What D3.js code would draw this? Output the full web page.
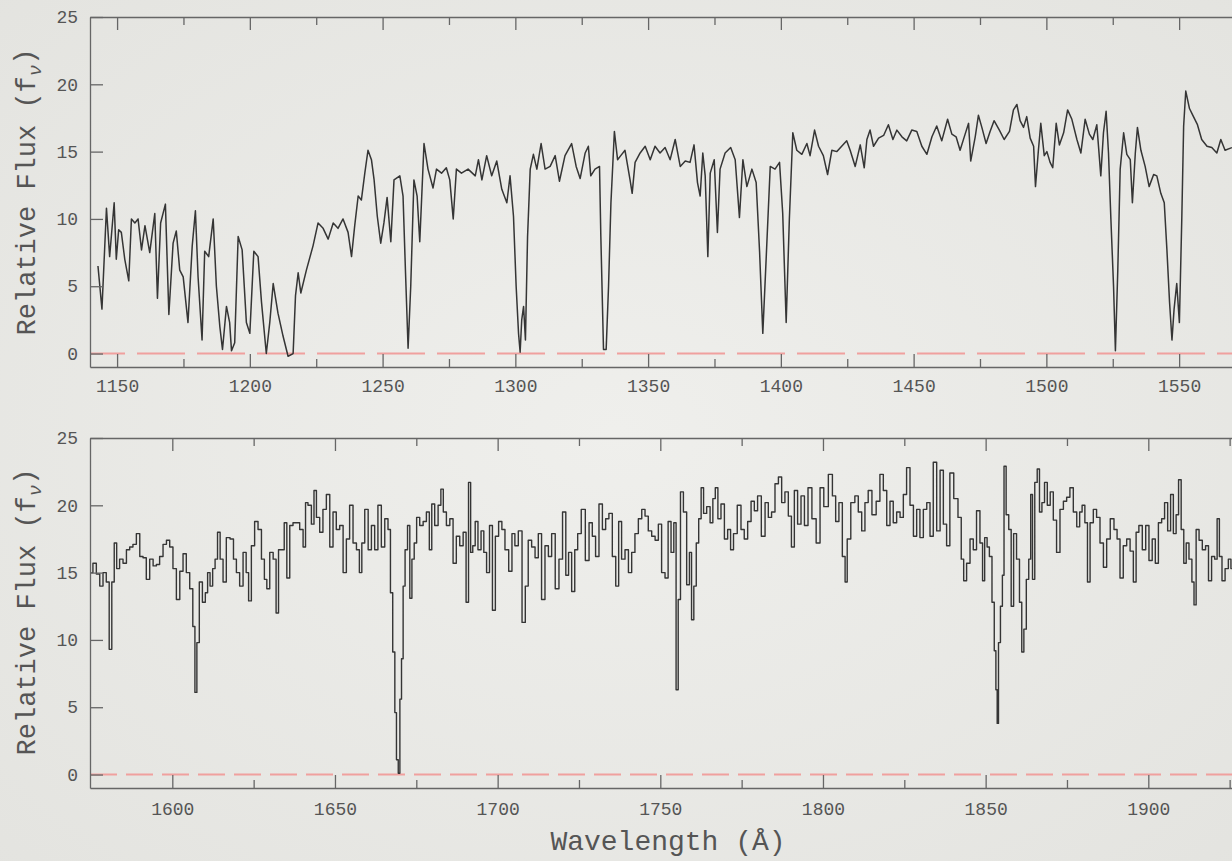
<!DOCTYPE html>
<html>
<head>
<meta charset="utf-8">
<title>Relative Flux spectrum</title>
<script src="https://cdn.jsdelivr.net/npm/d3@7"></script>
<style>
  body { margin: 0; background: #ecece8; overflow: hidden; }
  .axis line, .axis path { stroke: #666; stroke-width: 1.3; }
  .axis text { font-family: "Liberation Mono", "DejaVu Sans Mono", monospace; font-size: 18px; fill: #555; }
  .label { font-family: "Liberation Mono", "DejaVu Sans Mono", monospace; fill: #555; }
</style>
</head>
<body>
<script>

// Spectrum, upper panel: [wavelength (A), relative flux]
const topSpectrum = [
  [1142.8,6.5],[1144.3,3.3],[1146.0,10.8],[1147.2,7.2],[1148.9,11.2],[1149.7,7.0],[1150.6,9.2],[1151.6,9.0],
  [1152.9,7.0],[1154.4,5.4],[1155.4,10.0],[1156.7,9.7],[1157.9,10.0],[1159.2,7.7],[1160.5,9.5],[1162.3,7.5],
  [1164.2,10.4],[1165.2,4.1],[1166.4,9.7],[1168.2,11.1],[1169.5,2.9],[1171.1,8.2],[1172.3,9.1],[1173.6,6.2],
  [1174.9,5.7],[1176.7,2.3],[1178.3,8.0],[1179.5,10.6],[1180.5,5.7],[1182.0,1.0],[1183.0,7.6],[1184.5,7.2],
  [1186.2,10.0],[1187.4,5.0],[1188.7,2.0],[1189.7,0.3],[1191.2,3.5],[1192.4,2.3],[1193.1,0.2],[1194.3,0.8],
  [1195.6,8.7],[1197.1,7.7],[1198.7,2.3],[1200.0,1.5],[1201.5,7.6],[1203.1,7.2],[1204.4,3.8],[1206.2,0.0],
  [1207.5,2.3],[1208.8,5.2],[1210.6,3.0],[1212.5,1.3],[1214.4,-0.2],[1216.3,0.0],[1217.2,4.3],[1218.2,6.0],
  [1219.2,4.5],[1221.3,6.2],[1223.8,8.0],[1225.7,9.7],[1227.6,9.3],[1229.5,8.5],[1231.4,9.7],[1233.2,9.3],
  [1235.1,10.0],[1237.0,9.0],[1238.3,7.2],[1239.5,9.5],[1240.8,11.7],[1242.0,11.4],[1243.3,13.4],[1244.5,15.1],
  [1245.8,14.4],[1246.8,12.9],[1248.0,10.2],[1249.3,8.2],[1250.5,9.7],[1251.7,11.6],[1253.1,8.3],[1254.3,12.9],
  [1256.5,13.2],[1257.7,11.7],[1258.6,6.2],[1259.6,0.4],[1260.6,5.0],[1261.8,12.9],[1263.0,11.7],[1264.0,8.3],
  [1265.6,15.6],[1267.1,13.7],[1269.0,12.3],[1270.3,13.7],[1272.2,13.4],[1274.0,13.8],[1275.3,12.9],[1276.6,10.0],
  [1277.8,13.7],[1279.7,13.4],[1282.2,13.7],[1284.9,13.2],[1286.1,14.4],[1287.4,12.9],[1289.2,14.7],[1291.1,13.2],
  [1293.0,14.3],[1294.9,12.2],[1296.8,11.2],[1298.0,13.2],[1299.3,10.2],[1300.3,5.0],[1301.2,1.5],[1301.8,0.1],
  [1302.4,2.5],[1303.1,3.5],[1303.8,1.0],[1304.6,8.7],[1305.6,13.7],[1306.8,14.8],[1308.1,13.7],[1309.7,15.6],
  [1311.2,13.7],[1313.1,13.9],[1315.0,14.7],[1316.6,12.8],[1318.7,14.7],[1321.2,15.6],[1322.9,13.9],[1324.4,13.0],
  [1326.3,14.9],[1327.5,15.4],[1328.4,13.2],[1330.0,13.7],[1331.7,13.9],[1332.2,8.7],[1333.2,0.3],[1334.2,0.3],
  [1335.1,5.0],[1336.0,11.2],[1337.3,16.5],[1338.5,14.4],[1339.7,14.7],[1341.3,15.1],[1343.2,12.9],[1344.0,11.9],
  [1345.1,14.2],[1347.0,14.9],[1348.9,15.4],[1350.8,14.4],[1352.6,15.4],[1354.5,14.9],[1356.4,15.3],[1358.3,14.4],
  [1360.2,15.9],[1362.1,13.9],[1364.0,14.3],[1365.8,14.2],[1367.3,15.5],[1368.6,12.7],[1369.6,11.7],[1370.6,14.9],
  [1371.5,13.2],[1372.5,7.2],[1373.4,13.4],[1374.9,14.4],[1376.1,9.0],[1377.1,13.7],[1379.0,14.9],[1381.1,15.3],
  [1382.8,14.4],[1384.4,10.1],[1385.7,14.4],[1387.2,12.4],[1389.1,13.7],[1390.7,12.7],[1392.0,7.5],[1393.2,1.5],
  [1394.5,7.2],[1396.0,13.9],[1397.8,13.7],[1399.5,14.2],[1400.7,10.4],[1402.0,2.3],[1403.2,10.0],[1404.5,16.4],
  [1406.0,15.1],[1407.9,14.8],[1409.8,15.6],[1411.0,14.7],[1412.7,16.6],[1414.2,15.4],[1416.0,14.7],[1417.6,13.3],
  [1419.2,15.1],[1421.1,15.0],[1422.9,15.4],[1424.8,15.8],[1426.1,15.1],[1428.0,13.9],[1429.9,15.5],[1431.4,13.8],
  [1432.4,15.9],[1433.6,16.6],[1434.9,15.4],[1436.8,16.0],[1438.7,16.2],[1440.5,17.0],[1442.2,15.9],[1443.7,16.6],
  [1445.6,16.1],[1447.4,15.8],[1449.3,16.6],[1451.2,16.5],[1453.1,15.4],[1455.0,14.8],[1456.9,16.1],[1458.7,16.9],
  [1460.6,15.8],[1462.8,17.4],[1464.4,16.3],[1466.0,16.1],[1467.5,15.1],[1469.4,16.3],[1470.7,17.1],[1471.5,14.3],
  [1473.2,16.1],[1474.4,17.7],[1475.7,16.8],[1477.3,15.6],[1478.8,16.5],[1480.3,17.3],[1482.3,16.6],[1484.1,15.9],
  [1486.1,16.5],[1487.6,18.1],[1488.9,18.5],[1490.1,17.3],[1491.4,16.8],[1492.6,17.6],[1493.9,16.0],[1495.2,15.4],
  [1495.9,12.4],[1497.0,15.1],[1497.9,17.1],[1499.2,14.7],[1500.2,15.0],[1501.4,14.2],[1502.4,13.8],[1503.7,17.1],
  [1504.9,15.5],[1506.5,16.4],[1508.0,18.1],[1509.6,17.4],[1511.5,15.9],[1513.0,14.9],[1514.6,17.4],[1516.2,16.3],
  [1517.5,15.9],[1519.0,17.0],[1520.5,13.2],[1521.5,16.4],[1522.5,18.0],[1523.4,14.9],[1524.3,10.0],[1525.3,5.0],
  [1526.0,0.2],[1526.9,6.2],[1527.8,13.7],[1529.1,16.4],[1530.3,14.8],[1531.6,14.4],[1532.4,11.2],[1533.5,14.9],
  [1534.3,16.8],[1535.6,15.1],[1537.2,13.9],[1538.7,12.4],[1540.4,13.3],[1541.6,13.2],[1543.1,11.9],[1544.4,11.2],
  [1545.4,7.7],[1546.4,3.8],[1547.3,1.0],[1548.1,3.3],[1549.1,5.2],[1550.1,2.3],[1551.0,10.0],[1551.7,16.9],
  [1552.5,19.5],[1553.9,18.2],[1555.4,17.6],[1556.9,17.0],[1558.5,15.9],[1560.5,15.4],[1562.3,15.3],[1564.2,14.9],
  [1565.7,15.9],[1567.3,15.1],[1569.9,15.3]
];

// Spectrum, lower panel: [wavelength (A), relative flux]
const bottomSpectrum = [
  [1575.1,15.0],[1576.1,15.7],[1577.2,14.9],[1578.2,14.0],[1579.2,15.0],[1580.2,14.3],[1581.0,9.3],[1581.8,14.3],
  [1582.5,17.2],[1583.3,15.3],[1584.3,16.0],[1585.4,15.7],[1586.4,16.7],[1587.4,16.9],[1588.4,17.1],[1589.5,17.9],
  [1590.5,16.2],[1591.5,16.1],[1592.5,14.5],[1593.6,16.0],[1594.6,15.5],[1595.6,15.6],[1596.6,16.2],[1597.7,17.1],
  [1598.7,17.4],[1599.7,16.9],[1600.7,15.3],[1601.8,13.0],[1602.8,15.1],[1603.8,16.4],[1604.8,15.0],[1605.9,13.8],
  [1606.7,11.0],[1607.2,6.1],[1607.9,9.8],[1608.7,14.3],[1609.8,12.8],[1610.5,13.5],[1611.2,15.0],[1612.0,14.0],
  [1612.8,15.3],[1613.5,16.0],[1614.3,18.0],[1615.1,16.0],[1616.1,14.3],[1617.1,17.6],[1618.4,17.5],[1619.2,16.0],
  [1620.2,15.0],[1621.2,14.0],[1622.3,16.5],[1623.1,15.0],[1623.8,12.9],[1624.8,17.0],[1625.8,18.8],[1626.9,18.2],
  [1627.9,16.0],[1628.7,14.5],[1629.4,13.8],[1630.5,16.5],[1631.5,16.0],[1632.3,12.0],[1633.0,16.7],[1634.0,16.7],
  [1634.8,18.7],[1635.6,14.6],[1636.6,18.5],[1637.6,18.7],[1638.6,18.7],[1639.7,18.2],[1640.7,16.9],[1641.2,20.2],
  [1642.2,20.0],[1643.3,18.6],[1643.8,21.1],[1644.8,19.1],[1645.8,18.0],[1646.8,19.7],[1647.9,20.8],[1648.9,16.9],
  [1649.9,19.5],[1650.9,18.2],[1652.0,18.5],[1653.0,15.0],[1654.0,17.5],[1655.0,20.0],[1656.1,17.2],[1657.1,16.7],
  [1657.9,15.0],[1658.6,17.2],[1659.7,19.7],[1660.7,16.7],[1661.7,18.5],[1662.7,16.7],[1663.7,20.0],[1664.8,16.9],
  [1665.8,19.0],[1666.8,18.2],[1667.3,13.5],[1668.2,9.1],[1668.6,4.6],[1669.2,1.1],[1669.7,0.1],[1670.2,5.6],
  [1670.7,8.6],[1671.2,14.0],[1671.9,16.7],[1672.7,18.5],[1673.3,13.1],[1674.0,16.0],[1674.7,17.2],[1675.5,19.1],
  [1676.6,18.5],[1677.6,18.8],[1678.6,19.5],[1679.4,16.7],[1680.1,20.1],[1681.2,18.5],[1682.2,20.0],[1682.9,21.2],
  [1683.7,19.5],[1684.8,18.5],[1685.8,19.0],[1686.8,15.7],[1687.8,17.7],[1688.9,17.0],[1689.9,18.0],[1690.7,12.8],
  [1691.4,21.7],[1692.0,16.5],[1692.7,17.0],[1693.5,18.8],[1694.4,16.7],[1695.4,18.1],[1696.1,16.5],[1697.1,15.0],
  [1697.9,18.5],[1698.9,12.2],[1699.7,17.7],[1700.9,18.8],[1701.7,18.2],[1702.8,16.7],[1704.0,15.1],[1704.8,17.9],
  [1705.8,17.0],[1706.9,18.1],[1708.1,11.3],[1708.9,14.0],[1709.9,17.4],[1711.0,16.9],[1712.0,16.1],[1713.0,17.9],
  [1714.0,13.0],[1715.1,17.0],[1716.1,16.2],[1717.1,17.9],[1718.3,13.8],[1719.4,16.0],[1720.5,19.5],[1721.4,14.8],
  [1722.2,16.5],[1723.3,13.6],[1724.1,16.7],[1725.1,17.9],[1726.3,19.7],[1727.6,15.9],[1728.6,18.7],[1729.6,17.7],
  [1730.6,16.2],[1731.7,20.1],[1732.7,18.2],[1733.7,19.0],[1734.7,19.4],[1735.8,16.2],[1736.8,14.0],[1737.6,18.8],
  [1738.6,16.0],[1739.7,16.7],[1740.7,15.0],[1741.7,16.5],[1742.7,17.9],[1743.8,19.0],[1744.8,19.7],[1745.8,19.2],
  [1746.8,18.1],[1747.9,17.7],[1748.9,17.4],[1749.9,18.6],[1750.9,15.0],[1752.0,14.6],[1752.8,18.8],[1753.8,16.5],
  [1754.5,18.7],[1755.2,6.3],[1755.8,13.0],[1756.6,21.0],[1757.6,19.5],[1758.6,14.1],[1759.3,16.5],[1759.9,11.5],
  [1760.7,14.0],[1761.4,17.2],[1762.2,19.0],[1762.9,21.3],[1763.7,19.4],[1764.8,19.9],[1765.8,18.7],[1766.5,20.5],
  [1767.3,21.3],[1768.1,19.0],[1769.2,20.1],[1770.2,17.5],[1771.2,18.2],[1772.0,16.7],[1773.0,17.9],[1774.3,20.0],
  [1775.3,18.2],[1776.3,17.5],[1777.4,18.8],[1778.4,20.3],[1779.4,19.6],[1780.4,20.7],[1781.7,17.7],[1782.7,20.2],
  [1783.7,19.1],[1784.7,19.5],[1785.8,21.6],[1786.8,22.1],[1787.8,20.2],[1788.8,21.0],[1789.9,19.2],[1790.7,16.9],
  [1791.7,21.1],[1792.7,18.6],[1793.8,20.7],[1794.8,18.5],[1796.0,21.3],[1797.2,19.0],[1798.6,17.2],[1799.6,21.3],
  [1800.9,19.9],[1802.4,22.3],[1803.4,20.7],[1804.4,18.8],[1805.4,20.2],[1806.5,16.2],[1807.1,14.3],[1807.8,17.5],
  [1809.3,20.2],[1810.3,20.7],[1811.4,19.5],[1812.4,18.1],[1813.4,20.2],[1814.4,21.1],[1815.7,19.3],[1817.0,20.3],
  [1818.0,22.3],[1819.1,21.1],[1820.1,18.5],[1821.1,20.3],[1822.1,18.7],[1823.2,19.5],[1824.2,19.1],[1825.2,20.8],
  [1826.2,22.8],[1827.3,20.0],[1828.3,17.7],[1829.3,19.7],[1830.3,17.6],[1831.4,19.7],[1832.4,20.2],[1833.4,17.7],
  [1834.4,23.2],[1835.5,18.1],[1836.5,22.6],[1837.5,18.6],[1838.5,17.0],[1839.5,22.4],[1840.9,20.5],[1842.1,19.1],
  [1842.9,16.0],[1843.6,14.4],[1844.7,15.7],[1845.7,17.5],[1846.7,16.7],[1847.7,19.6],[1848.8,17.2],[1849.3,14.4],
  [1850.1,17.6],[1850.8,16.9],[1851.5,16.2],[1852.4,12.8],[1852.9,9.2],[1853.4,6.3],[1853.7,3.8],[1854.2,9.8],
  [1854.9,12.5],[1855.4,14.8],[1855.9,22.9],[1856.7,19.3],[1857.5,18.2],[1858.2,12.5],[1859.0,17.9],[1860.0,16.0],
  [1860.8,12.8],[1861.4,9.1],[1862.1,10.8],[1862.9,14.5],[1863.6,16.0],[1864.1,20.8],[1864.7,14.5],[1865.5,21.7],
  [1866.2,22.7],[1866.9,19.5],[1867.7,20.2],[1868.5,21.7],[1869.4,20.0],[1870.3,21.0],[1871.3,18.9],[1872.3,16.5],
  [1873.4,19.7],[1874.4,20.3],[1875.4,20.6],[1876.4,21.3],[1877.5,19.5],[1878.5,18.4],[1879.3,19.5],[1880.0,20.0],
  [1881.0,18.7],[1881.6,14.3],[1882.6,18.7],[1883.6,19.7],[1884.6,19.1],[1885.7,17.2],[1886.7,15.4],[1887.7,17.5],
  [1888.9,19.0],[1890.0,18.2],[1890.8,17.5],[1891.8,14.6],[1892.8,17.0],[1893.9,17.5],[1894.9,16.6],[1895.9,14.3],
  [1896.6,18.0],[1897.6,18.5],[1898.7,16.7],[1899.7,18.5],[1900.7,15.9],[1901.7,17.5],[1902.6,15.7],[1903.6,18.7],
  [1904.6,19.0],[1905.4,20.2],[1906.5,18.1],[1907.2,20.8],[1908.2,17.9],[1908.9,19.3],[1909.7,21.9],[1910.5,18.2],
  [1911.3,15.7],[1912.0,17.2],[1913.0,16.0],[1913.8,14.3],[1914.3,12.6],[1915.1,18.2],[1916.1,17.4],[1917.1,16.7],
  [1918.1,17.0],[1918.9,14.4],[1920.0,16.2],[1920.8,16.0],[1921.5,19.0],[1922.2,16.2],[1923.1,14.4],[1924.1,15.3],
  [1925.1,16.0],[1925.7,15.3]
];

// Tick values
const fluxTicks = [0, 5, 10, 15, 20, 25];
const topMajorTicks = [1150, 1200, 1250, 1300, 1350, 1400, 1450, 1500, 1550];
const topMinorTicks = [1175, 1225, 1275, 1325, 1375, 1425, 1475, 1525, 1575];
const bottomMajorTicks = [1600, 1650, 1700, 1750, 1800, 1850, 1900];
const bottomMinorTicks = [1625, 1675, 1725, 1775, 1825, 1875, 1925];

const fluxDomain = [-1, 25];

const w = 1232;
const h = 861;

const svg = d3.select("body")
  .append("svg")
  .attr("width", w)
  .attr("height", h);

// soft vignette background
const grad = svg.append("defs")
  .append("radialGradient")
  .attr("id", "bg")
  .attr("cx", "50%").attr("cy", "50%").attr("r", "75%");
grad.append("stop").attr("offset", "0%").attr("stop-color", "#efefec");
grad.append("stop").attr("offset", "100%").attr("stop-color", "#e3e3df");

svg.append("rect")
  .attr("width", w)
  .attr("height", h)
  .attr("fill", "url(#bg)");

// Panel layout (pixel boxes; the right frame edge runs off the picture)
const panels = [
  { data: topSpectrum, xDomain: [1139.8, 1589.8], left: 90, right: 1284.8, top: 17, bottom: 367,
    major: topMajorTicks, minor: topMinorTicks, labelPad: 12, dash: "48,12", dashOffset: 13,
    curve: d3.curveLinear, stroke: 1.5, labelY: 192 },
  { data: bottomSpectrum, xDomain: [1574.7, 1934.7], left: 90, right: 1261.2, top: 438, bottom: 788,
    major: bottomMajorTicks, minor: bottomMinorTicks, labelPad: 14, dash: "27,9", dashOffset: 0,
    curve: d3.curveStep, stroke: 1.4, labelY: 612 }
];

panels.forEach(function(p) {

  const xScale = d3.scaleLinear()
    .domain(p.xDomain)
    .range([p.left, p.right]);

  const yScale = d3.scaleLinear()
    .domain(fluxDomain)
    .range([p.bottom, p.top]);

  // zero level, red dashes
  svg.append("line")
    .attr("x1", xScale(p.xDomain[0]))
    .attr("x2", xScale(p.xDomain[1]))
    .attr("y1", yScale(0))
    .attr("y2", yScale(0))
    .attr("stroke", "#f0a09e")
    .attr("stroke-width", 2)
    .attr("stroke-dasharray", p.dash)
    .attr("stroke-dashoffset", p.dashOffset);

  // the spectrum itself
  const line = d3.line()
    .x(function(d) { return xScale(d[0]); })
    .y(function(d) { return yScale(d[1]); })
    .curve(p.curve);

  svg.append("path")
    .datum(p.data)
    .attr("d", line)
    .attr("fill", "none")
    .attr("stroke", "#353535")
    .attr("stroke-width", p.stroke)
    .attr("stroke-linejoin", "round");

  // bottom axis, major ticks with labels
  svg.append("g")
    .attr("class", "axis")
    .attr("transform", `translate(0,${p.bottom})`)
    .call(d3.axisBottom(xScale)
      .tickValues(p.major)
      .tickSizeInner(-13)
      .tickSizeOuter(0)
      .tickPadding(p.labelPad)
      .tickFormat(d3.format("d")));

  // bottom axis, minor ticks
  svg.append("g")
    .attr("class", "axis")
    .attr("transform", `translate(0,${p.bottom})`)
    .call(d3.axisBottom(xScale)
      .tickValues(p.minor)
      .tickSizeInner(-8)
      .tickSizeOuter(0)
      .tickFormat(""))
    .select(".domain").remove();

  // top frame with ticks
  svg.append("g")
    .attr("class", "axis")
    .attr("transform", `translate(0,${p.top})`)
    .call(d3.axisTop(xScale)
      .tickValues(p.major)
      .tickSizeInner(-13)
      .tickSizeOuter(0)
      .tickFormat(""));

  svg.append("g")
    .attr("class", "axis")
    .attr("transform", `translate(0,${p.top})`)
    .call(d3.axisTop(xScale)
      .tickValues(p.minor)
      .tickSizeInner(-8)
      .tickSizeOuter(0)
      .tickFormat(""))
    .select(".domain").remove();

  // left axis
  svg.append("g")
    .attr("class", "axis")
    .attr("transform", `translate(${p.left},0)`)
    .call(d3.axisLeft(yScale)
      .tickValues(fluxTicks)
      .tickSizeInner(-13)
      .tickSizeOuter(0)
      .tickPadding(12));

  // y label
  const yl = svg.append("text")
    .attr("class", "label")
    .attr("transform", `translate(35,${p.labelY}) rotate(-90)`)
    .attr("text-anchor", "middle")
    .style("font-size", "27px");
  yl.append("tspan").text("Relative Flux (f");
  yl.append("tspan")
    .attr("dy", "0.3em")
    .style("font-size", "19px")
    .style("font-style", "italic")
    .text("ν");
  yl.append("tspan")
    .attr("dy", "-0.3em")
    .text(")");
});

// x label
svg.append("text")
  .attr("class", "label")
  .attr("x", 668)
  .attr("y", 850)
  .attr("text-anchor", "middle")
  .style("font-size", "28px")
  .text("Wavelength (Å)");

</script>
</body>
</html>
